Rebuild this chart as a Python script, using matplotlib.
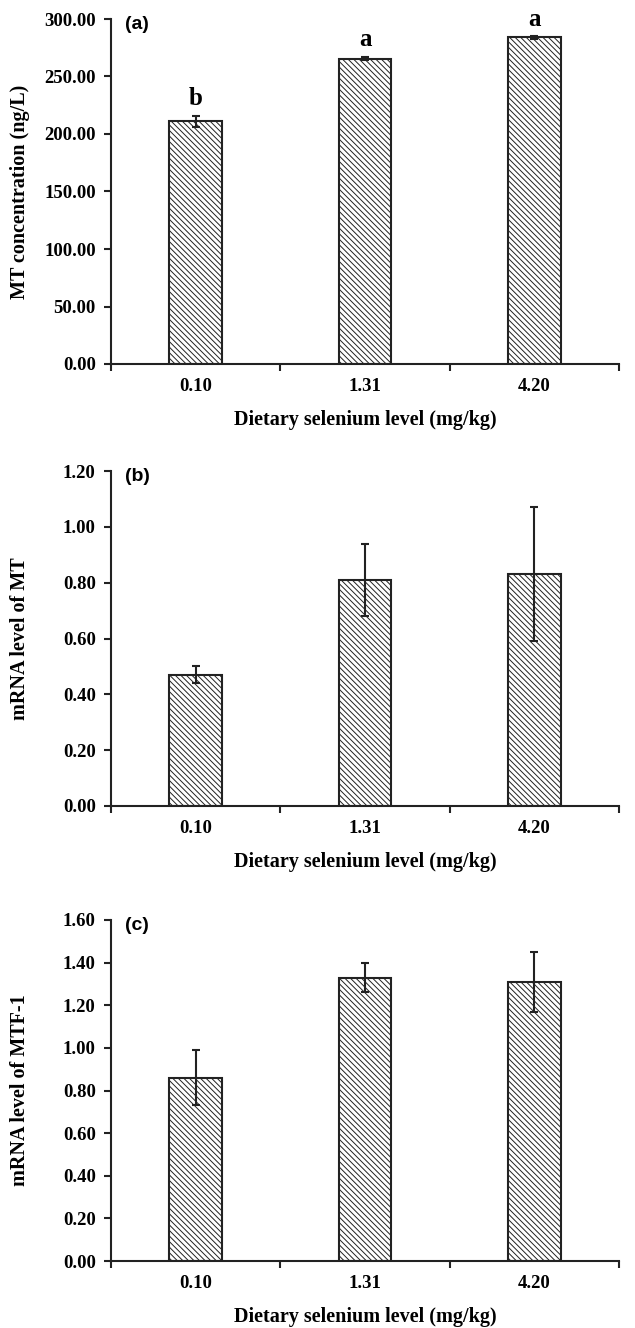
import matplotlib
matplotlib.use('Agg')
import matplotlib.pyplot as plt
import numpy as np

plt.rcParams['hatch.linewidth'] = 0.7
serif = 'Liberation Serif'
sans = 'Liberation Sans'

W, H = 635, 1328
dpi = 100

categories = ['0.10', '1.31', '4.20']
xlabel = 'Dietary selenium level (mg/kg)'

# panel (a)
mt_conc = [211.0, 265.5, 284.0]
mt_conc_err = [5.0, 1.5, 1.0]
mt_conc_letters = ['b', 'a', 'a']

# panel (b)
mt_mrna = [0.47, 0.81, 0.83]
mt_mrna_err = [0.03, 0.13, 0.24]

# panel (c)
mtf_mrna = [0.86, 1.33, 1.31]
mtf_mrna_err = [0.13, 0.07, 0.14]

panels = [
    dict(vals=mt_conc, err=mt_conc_err, letters=mt_conc_letters, tag='(a)',
         ylabel='MT concentration (ng/L)', ymax=300, step=50, top=19, bottom=364),
    dict(vals=mt_mrna, err=mt_mrna_err, letters=None, tag='(b)',
         ylabel='mRNA level of MT', ymax=1.2, step=0.2, top=471, bottom=806),
    dict(vals=mtf_mrna, err=mtf_mrna_err, letters=None, tag='(c)',
         ylabel='mRNA level of MTF-1', ymax=1.6, step=0.2, top=920, bottom=1261),
]

fig = plt.figure(figsize=(W / dpi, H / dpi), dpi=dpi)
left, right = 111, 619
edge = '#222222'

for p in panels:
    ax = fig.add_axes([left / W, (H - p['bottom']) / H, (right - left) / W,
                       (p['bottom'] - p['top']) / H])
    x = np.arange(len(categories))
    ax.bar(x, p['vals'], width=0.31, color='white', edgecolor=edge,
           linewidth=1.5, hatch='\\\\\\\\\\\\', zorder=2)
    ax.errorbar(x, p['vals'], yerr=p['err'], fmt='none', ecolor=edge,
                elinewidth=1.5, capsize=3, capthick=1.5, zorder=3)
    if p['letters']:
        for xi, v, e, t in zip(x, p['vals'], p['err'], p['letters']):
            ax.annotate(t, (xi, v + e), xytext=(0, 4), textcoords='offset points',
                        ha='center', va='bottom', fontsize=18,
                        fontweight='bold', family=serif)

    ax.set_xlim(-0.5, 2.5)
    ax.set_ylim(0, p['ymax'])
    ax.set_yticks(np.arange(0, p['ymax'] + p['step'] / 2, p['step']))
    ax.yaxis.set_major_formatter(matplotlib.ticker.FormatStrFormatter('%.2f'))
    ax.set_xticks([-0.5, 0.5, 1.5, 2.5])
    ax.set_xticklabels([])
    ax.set_xticks(x, minor=True)
    ax.set_xticklabels(categories, minor=True)
    ax.tick_params(axis='x', which='minor', length=0, pad=10)
    ax.tick_params(axis='y', which='major', pad=6)
    ax.tick_params(axis='both', which='major', direction='out', length=5,
                   width=1.5, color=edge)
    for lab in ax.get_xticklabels(minor=True) + ax.get_yticklabels():
        lab.set_fontfamily(serif)
        lab.set_fontweight('bold')
        lab.set_fontsize(13.5)

    for s in ['top', 'right']:
        ax.spines[s].set_visible(False)
    for s in ['left', 'bottom']:
        ax.spines[s].set_linewidth(1.5)
        ax.spines[s].set_color(edge)

    ax.text(0.028, 0.985, p['tag'], transform=ax.transAxes, ha='left',
            va='center', fontsize=14, fontweight='bold', family=sans)
    ax.set_xlabel(xlabel, fontsize=14.5, fontweight='bold', family=serif)
    ax.xaxis.set_label_coords(0.5, -56 / (p['bottom'] - p['top']))
    ax.set_ylabel(p['ylabel'], fontsize=14.5, fontweight='bold', family=serif)
    ax.yaxis.set_label_coords(-91 / (right - left), 0.5)
    ax.yaxis.label.set_va('center')
    ax.xaxis.label.set_va('center')

fig.savefig('out.png', dpi=dpi)
